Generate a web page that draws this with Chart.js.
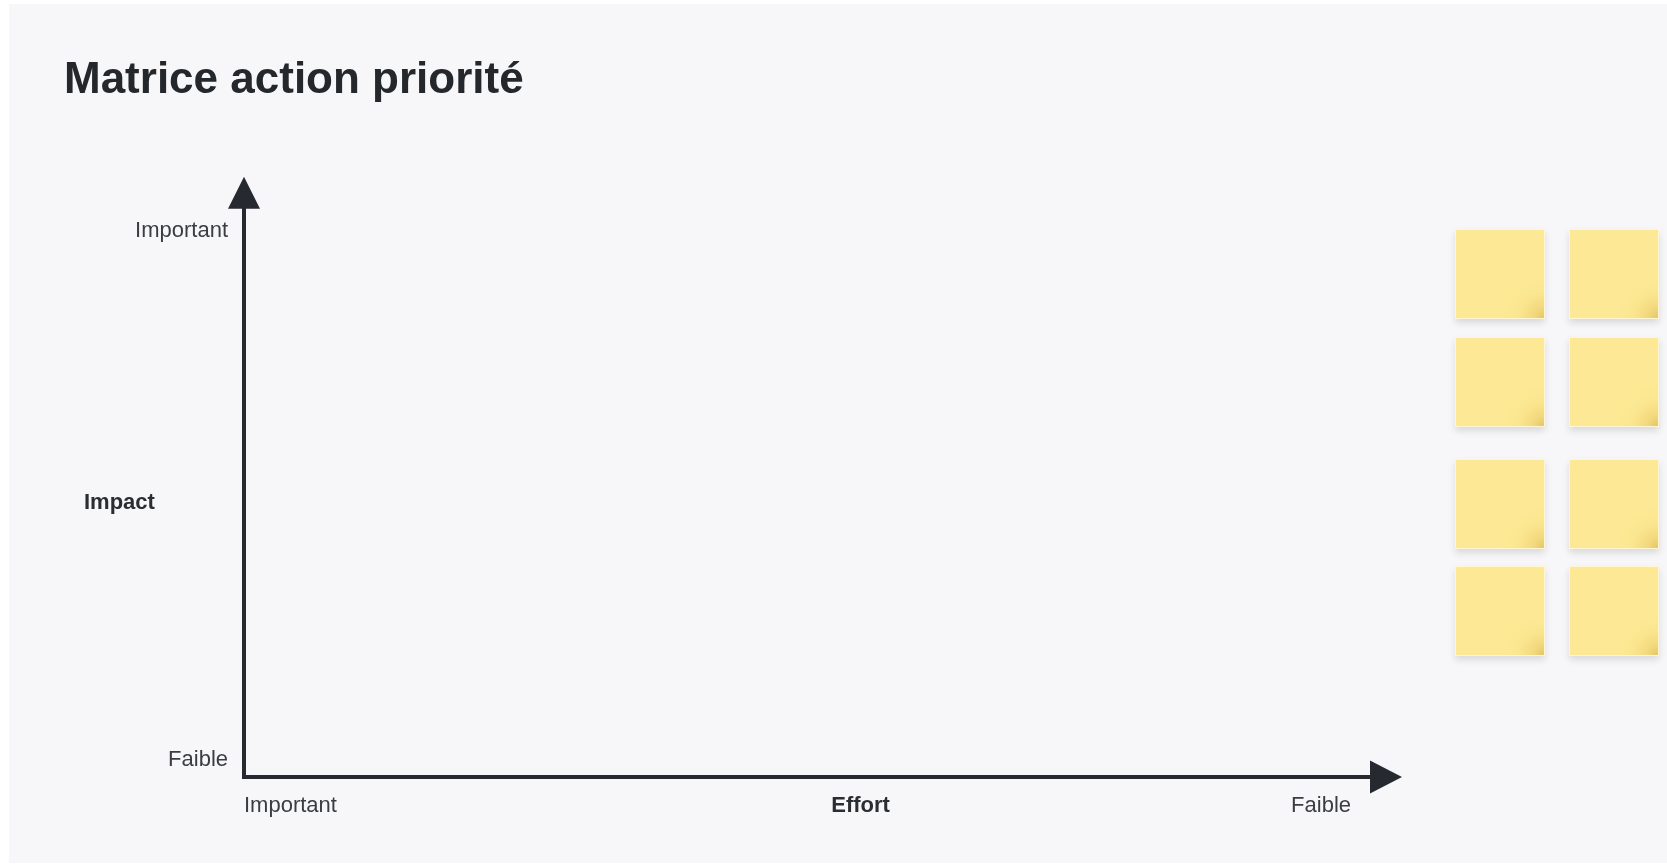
<!DOCTYPE html>
<html lang="fr">
<head>
<meta charset="utf-8">
<title>Matrice action priorité</title>
<script src="https://cdn.jsdelivr.net/npm/chart.js"></script>
<style>
  html, body { margin: 0; padding: 0; background: #ffffff; }
  body { width: 1667px; height: 865px; position: relative; overflow: hidden; font-family: "Liberation Sans", Arial, Helvetica, sans-serif; }
  .panel { position: absolute; left: 9px; top: 4px; width: 1658px; height: 859px; background: #f7f7f9; }
  .chart-box { position: absolute; left: 0; top: 0; width: 1420px; height: 865px; }
  .note {
    position: absolute; width: 88px; height: 88px;
    border: 1px solid #fff6d6;
    background: radial-gradient(circle at 100% 100%, #e4c666 0px, #f3d97e 11px, #fbe690 26px, #fde995 42px);
    box-shadow: 0 4px 7px rgba(0, 0, 0, 0.12);
  }
</style>
</head>
<body>
<div class="panel"></div>
<div class="chart-box"><canvas id="matrixChart"></canvas></div>

<div class="note" style="left:1455px; top:229px;"></div>
<div class="note" style="left:1569px; top:229px;"></div>
<div class="note" style="left:1455px; top:337px;"></div>
<div class="note" style="left:1569px; top:337px;"></div>
<div class="note" style="left:1455px; top:459px;"></div>
<div class="note" style="left:1569px; top:459px;"></div>
<div class="note" style="left:1455px; top:566px;"></div>
<div class="note" style="left:1569px; top:566px;"></div>

<script>
// axis labels of the matrix (values on a 0-100 scale)
const effortTickValues = [0, 100];
const effortTickLabels = ['Important', 'Faible'];
const impactTickValues = [3.1, 100];
const impactTickLabels = ['Faible', 'Important'];
// no action placed yet
const actionPoints = [];

const INK = '#262a30';
const LABEL = '#3a3d42';
const FONT = '"Liberation Sans", Arial, Helvetica, sans-serif';

// draws the two arrows and the horizontal axis titles
const axisArrows = {
    id: 'axisArrows',
    afterDraw(chart, args, opts) {
        const ctx = chart.ctx;
        const a = chart.chartArea;
        const xs = chart.scales.x;
        const ys = chart.scales.y;
        ctx.save();
        ctx.strokeStyle = INK;
        ctx.fillStyle = INK;
        ctx.lineWidth = 4;
        ctx.lineJoin = 'miter';
        ctx.beginPath();
        ctx.moveTo(a.left, a.top - 30);
        ctx.lineTo(a.left, a.bottom);
        ctx.lineTo(a.right + 26, a.bottom);
        ctx.stroke();

        // up arrow
        ctx.beginPath();
        ctx.moveTo(a.left, a.top - 54);
        ctx.lineTo(a.left + 16, a.top - 22);
        ctx.lineTo(a.left - 16, a.top - 22);
        ctx.closePath();
        ctx.fill();

        // right arrow
        ctx.beginPath();
        ctx.moveTo(a.right + 51, a.bottom);
        ctx.lineTo(a.right + 19, a.bottom - 16.5);
        ctx.lineTo(a.right + 19, a.bottom + 16.5);
        ctx.closePath();
        ctx.fill();

        ctx.font = 'bold 22px ' + FONT;
        ctx.fillStyle = '#2a2d32';
        ctx.textBaseline = 'middle';
        ctx.textAlign = 'center';
        ctx.fillText(xs.options.title.text, xs.getPixelForValue(opts.effortAt), xs.top + 29);
        ctx.textAlign = 'left';
        ctx.fillText(ys.options.title.text, ys.left + 20, (ys.top + ys.bottom) / 2 - 1);
        ctx.restore();
    }
};

new Chart(document.getElementById('matrixChart'), {
    type: 'scatter',
    data: {
        datasets: [{ label: 'Actions', data: actionPoints, backgroundColor: '#f5c842' }]
    },
    options: {
        responsive: true,
        maintainAspectRatio: false,
        animation: false,
        layout: { padding: { left: 64, right: 69, top: 0, bottom: 0 } },
        plugins: {
            legend: { display: false },
            tooltip: { enabled: false },
            title: {
                display: true,
                text: 'Matrice action priorité',
                align: 'start',
                color: '#24272c',
                font: { family: FONT, size: 44, weight: 'bold', lineHeight: 1.2 },
                padding: { top: 54, bottom: 124 }
            },
            axisArrows: { effortAt: 55.7 }
        },
        scales: {
            x: {
                type: 'linear',
                min: 0,
                max: 100,
                afterBuildTicks: axis => { axis.ticks = effortTickValues.map(v => ({ value: v })); },
                afterFit: axis => { axis.height = 88; },
                grid: { display: false, drawTicks: false },
                border: { display: false },
                title: { display: false, text: 'Effort' },
                ticks: {
                    align: 'inner',
                    padding: 16,
                    color: LABEL,
                    font: { family: FONT, size: 22 },
                    callback: (v, i) => effortTickLabels[i]
                }
            },
            y: {
                type: 'linear',
                min: 0,
                max: 100,
                afterBuildTicks: axis => { axis.ticks = impactTickValues.map(v => ({ value: v })); },
                afterFit: axis => { axis.width = 180; },
                grid: { display: false, drawTicks: false },
                border: { display: false },
                title: { display: false, text: 'Impact' },
                ticks: {
                    padding: 16,
                    color: LABEL,
                    font: { family: FONT, size: 22 },
                    callback: (v, i) => impactTickLabels[i]
                }
            }
        }
    },
    plugins: [axisArrows]
});
</script>
</body>
</html>
